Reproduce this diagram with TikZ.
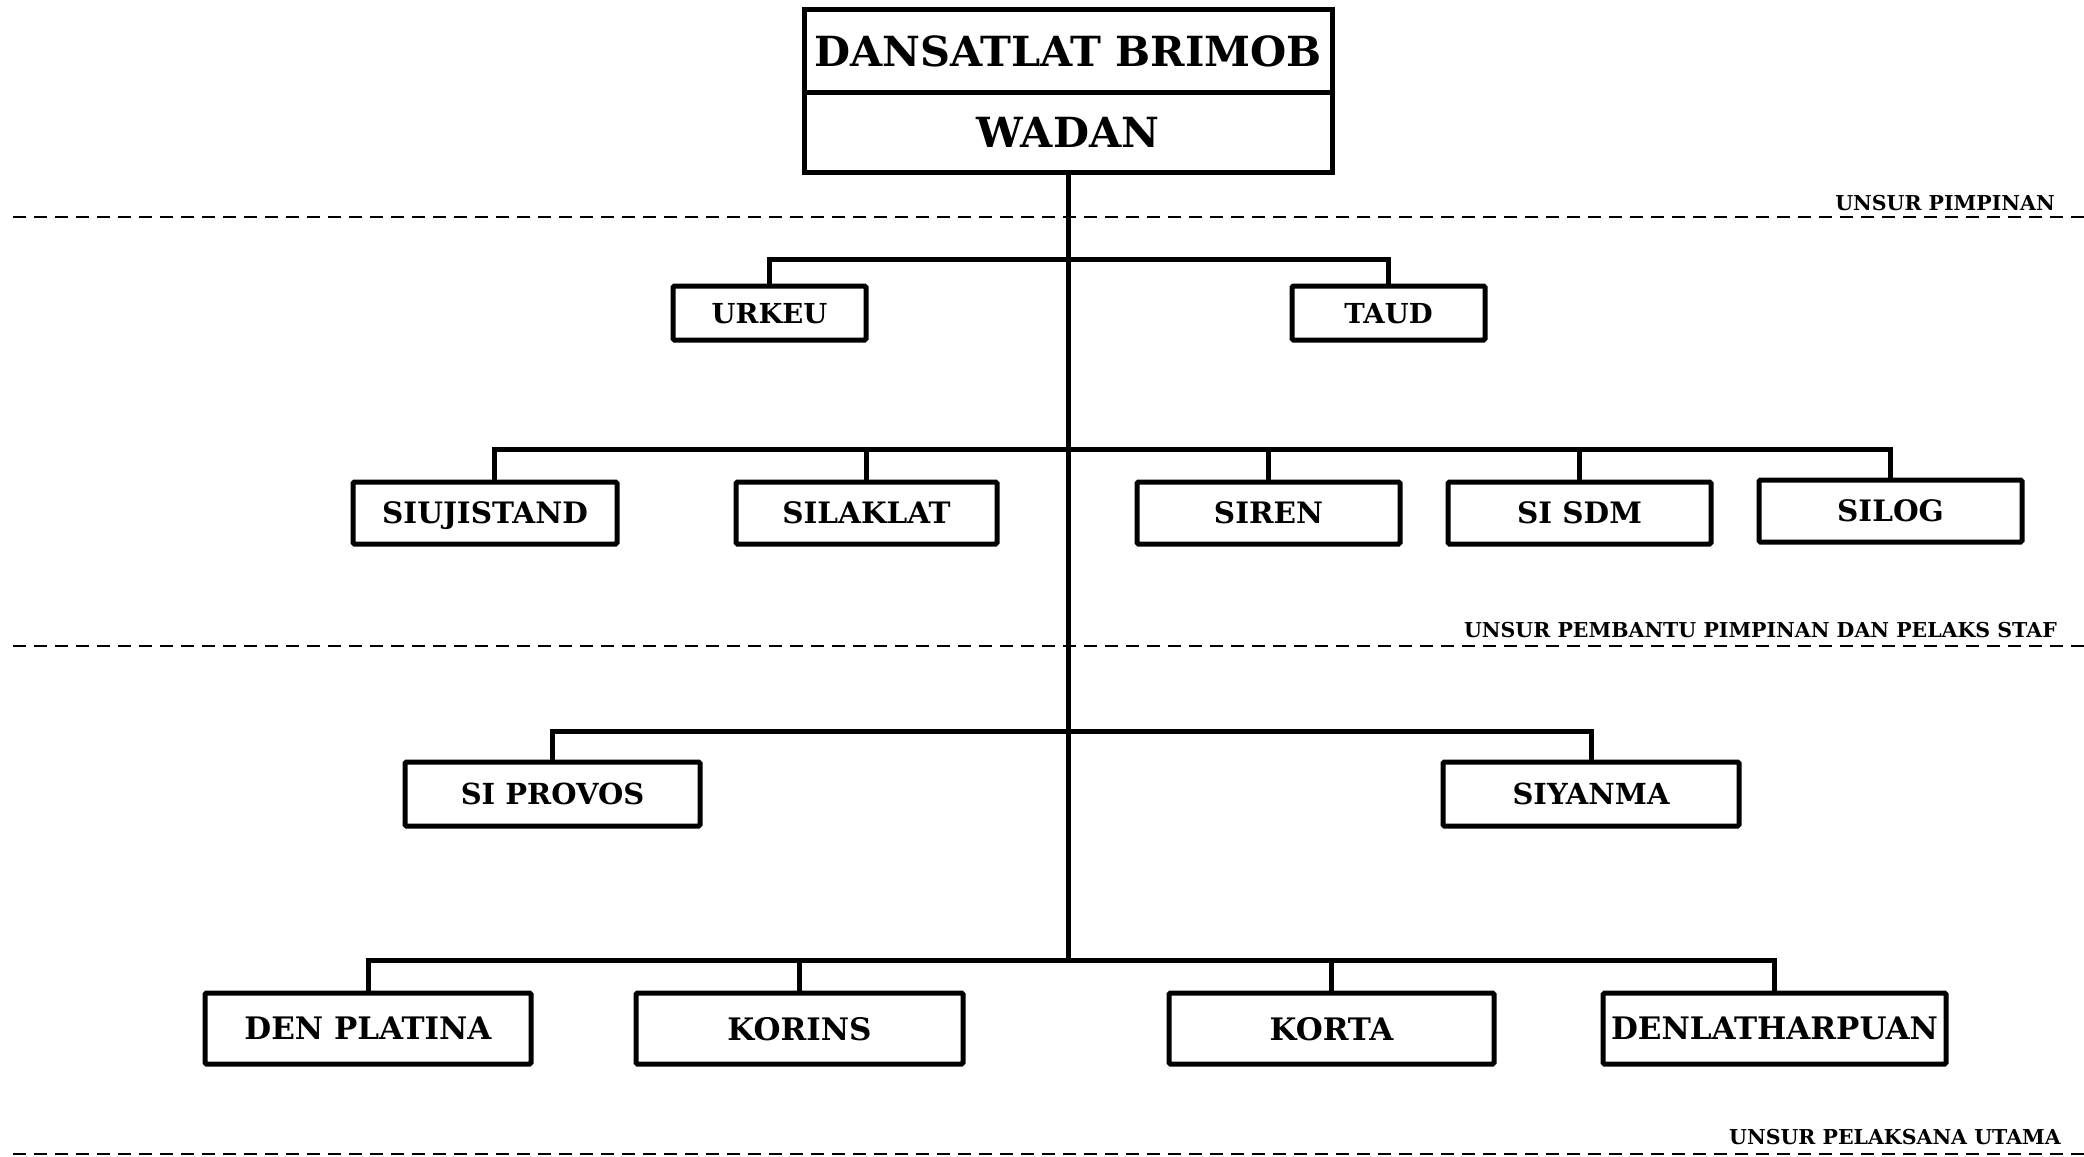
\documentclass[tikz,border=0pt]{standalone}
\usepackage{fontspec}
\setmainfont{DejaVu Serif}
\usetikzlibrary{positioning,calc}
\begin{document}
\begin{tikzpicture}[x=1pt,y=-1pt,
  box/.style={draw,line width=5pt,inner sep=0pt,rounded corners=1.5pt,text depth=0pt,font=\bfseries},
  fa/.style={font=\fontsize{27.5}{30}\selectfont\bfseries},
  fb/.style={font=\fontsize{29.5}{32}\selectfont\bfseries},
  fc/.style={font=\fontsize{29}{32}\selectfont\bfseries},
  fd/.style={font=\fontsize{31}{34}\selectfont\bfseries},
  topbox/.style={draw,line width=5pt,inner sep=0pt,minimum width=528pt,text depth=0pt,font=\fontsize{41.5}{46}\selectfont\bfseries},
  conn/.style={line width=5pt},
  sep/.style={line width=2.8pt,dash pattern=on 13pt off 8pt},
  unit/.style={font=\fontsize{20.5}{23}\selectfont\bfseries,anchor=base east,inner sep=0pt}]
\useasboundingbox (0,0) rectangle (2084,1156);
% dashed separators
\coordinate (d1a) at (13,217); \coordinate (d1b) at (2084,217);
\coordinate (d2a) at (13,646); \coordinate (d2b) at (2084,646);
\coordinate (d3a) at (13,1154); \coordinate (d3b) at (2084,1154);
\draw[sep] (d1a) -- (d1b);
\draw[sep] (d2a) -- (d2b);
\draw[sep] (d3a) -- (d3b);
\node[unit] (u1) at (2055,210) {UNSUR PIMPINAN};
\node[unit] (u2) at (2057,637) {UNSUR PEMBANTU PIMPINAN DAN PELAKS STAF};
\node[unit] (u3) at (2061,1144) {UNSUR PELAKSANA UTAMA};
% branch points
\coordinate (b1) at (1068,259);
\coordinate (b2) at (1068,449);
\coordinate (b3) at (1068,731);
\coordinate (b4) at (1068,960);
% top
\node[topbox,minimum height=82pt] (dan) at (1068,51) {DANSATLAT BRIMOB};
\node[topbox,minimum height=80pt] (wadan) at (1068,132) {WADAN};
% row 1
\node[box,fa,minimum width=193pt,minimum height=54pt] (urkeu) at (769.5,313) {URKEU};
\node[box,fa,minimum width=193pt,minimum height=54pt] (taud) at (1388.5,313) {TAUD};
% row 2
\node[box,fb,minimum width=264pt,minimum height=62pt] (siuji) at (485,513) {SIUJISTAND};
\node[box,fb,minimum width=261pt,minimum height=62pt] (silaklat) at (866.5,513) {SILAKLAT};
\node[box,fb,minimum width=263pt,minimum height=62pt] (siren) at (1268.5,513) {SIREN};
\node[box,fb,minimum width=263pt,minimum height=62pt] (sisdm) at (1579.5,513) {SI SDM};
\node[box,fb,minimum width=263pt,minimum height=62pt] (silog) at (1890.5,511) {SILOG};
\coordinate (sujtop) at ($(siuji.north)+(9,0)$);
% row 3
\node[box,fc,minimum width=295pt,minimum height=64pt] (provos) at (552.5,794) {SI PROVOS};
\node[box,fc,minimum width=296pt,minimum height=64pt] (siyanma) at (1591,794) {SIYANMA};
% row 4
\node[box,fd,minimum width=326pt,minimum height=71pt] (denplat) at (368,1028.5) {DEN PLATINA};
\node[box,fd,minimum width=327pt,minimum height=71pt] (korins) at (799.5,1028.5) {KORINS};
\node[box,fd,minimum width=325pt,minimum height=71pt] (korta) at (1331.5,1028.5) {KORTA};
\node[box,fd,minimum width=343pt,minimum height=71pt] (denlat) at (1774.5,1028.5) {DENLATHARPUAN};
% connectors
\draw[conn] (wadan.south) -- (b4);
\draw[conn] (urkeu.north) |- (b1) -| (taud.north);
\draw[conn] (sujtop) |- (b2) -| (silog.north);
\draw[conn] (silaklat.north) -- (silaklat.north |- b2);
\draw[conn] (siren.north) -- (siren.north |- b2);
\draw[conn] (sisdm.north) -- (sisdm.north |- b2);
\draw[conn] (provos.north) |- (b3) -| (siyanma.north);
\draw[conn] (denplat.north) |- (b4) -| (denlat.north);
\draw[conn] (korins.north) -- (korins.north |- b4);
\draw[conn] (korta.north) -- (korta.north |- b4);
\end{tikzpicture}
\end{document}
